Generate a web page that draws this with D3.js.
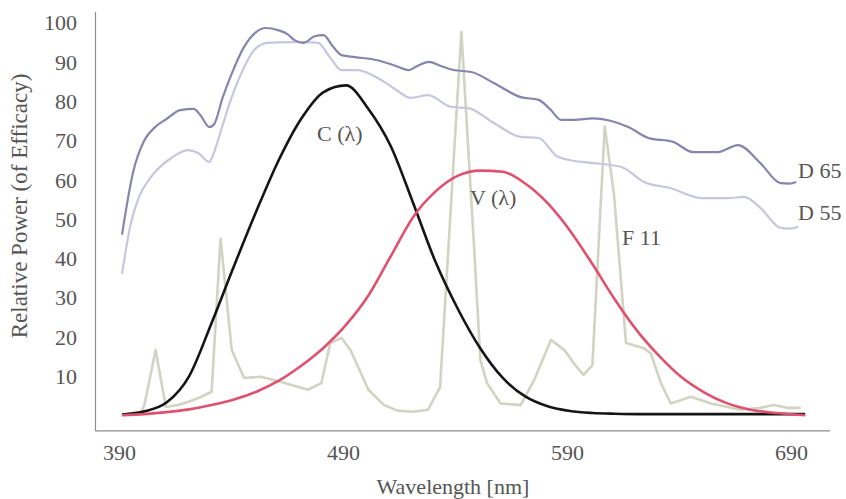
<!DOCTYPE html>
<html>
<head>
<meta charset="utf-8">
<script src="https://cdn.jsdelivr.net/npm/d3@7"></script>
<style>
html,body{margin:0;padding:0;background:#fff;}
svg{display:block;}
text{font-family:"Liberation Serif","Times New Roman",serif;fill:#555;}
</style>
</head>
<body>
<svg id="chart" width="846" height="499"></svg>
<script>
// ---- data ----
const xTicks = [390, 490, 590, 690];
const yTicks = [10, 20, 30, 40, 50, 60, 70, 80, 90, 100];

const d65Wl = [390,395,400,405,410,416,422,425,429,431,435,439,444.5,450,454,460,464,467,471,476,480,484,488,494,504,512,518,522,527,532,538,546,556,568,576,581,586,592,600,608,616,625,636,645,656,665,675,684,688,691];
const d65Val = [46,62,70,73.5,75.5,77.7,78,76.4,73.4,74,81,87,93.8,97.6,98.6,98,97,95.5,94.8,96.5,96.8,94,91.7,91.2,90.4,89,87.9,89,90,89,87.9,87.4,84.6,81,80.3,78,75.2,75.2,75.6,75,73.4,70.6,69.6,67,67,68.8,64.2,59.1,59,59.4];

const d55Wl = [390,394,397.6,403,412,419.5,424,429,431,435,439,444,449,455,465,472,477.5,483,488,495,505.6,512,519,526.6,537,544.5,556,568,576,584.6,595,600.7,613,623,635,648.5,660.5,667.7,675,684,688,692];
const d55Val = [36,49,55.6,60.7,65.5,67.5,66.8,64.5,66.8,74,81,88,93,94.8,95,95,94.8,91,87.9,87.9,85.4,83,80.8,81.5,78.5,78.2,74.4,70.9,70.6,65.8,64.5,64.2,63.2,59.4,57.8,55.3,55.3,55.6,52.8,47.7,47.5,48];

const f11Wl = [390,395,398.5,400,405,409.6,415,420,425,430,434,439,444.5,452,461,470,473,479,483,488,492,500,507,513,520,526.6,532,541.5,547,550,553,559,568,574,581.5,587.5,592,596,600,605.5,609.6,615,623,626,630.6,635,644,653,666,675,681,687,693];
const f11Val = [0,0.5,0.6,2.6,16.6,2.1,2.6,3.5,4.6,6,45,16.6,9.5,9.8,8.5,7,6.5,8.2,18.4,19.7,16.6,6.5,2.6,1.2,0.9,1.4,7.2,97.6,44.6,14,8.2,3,2.6,9,19.2,16.6,13,10.3,12.8,73.5,56.5,18.4,17.1,15.8,8.2,3,4.7,3,1.4,1.9,2.6,1.9,1.9];

const cvWl = [390,400,410,420,430,440,450,460,470,480,490,500,510,520,530,540,550,560,570,580,590,600,610,620,630,640,650,660,670,680,690,695];
const cVal = [0.2,1,3.3,10,23.5,38,52,65,75.5,82.3,84,78,68.5,54,39,27,17,9.5,4.8,2.3,1.1,0.6,0.4,0.3,0.3,0.3,0.3,0.3,0.3,0.3,0.3,0.3];
const vVal = [0,0.3,0.8,1.5,2.6,4,6,8.8,12.6,17.2,23,30.5,40.5,50.5,57,61,62.3,62,59,54,47,38.5,29.5,21.5,15,9.6,5.8,3.1,1.5,0.7,0.2,0];

const seriesNames = ["D 65", "D 55", "F 11", "C (λ)", "V (λ)"];

// ---- layout ----
const svg = d3.select("#chart");
const x = d3.scaleLinear().domain([390, 690]).range([122, 794]);
const y = d3.scaleLinear().domain([0, 100]).range([415.3, 22.5]);

// axes lines
svg.append("line").attr("x1", 95.5).attr("x2", 95.5).attr("y1", 12).attr("y2", 431)
  .attr("stroke", "#8c8c8c").attr("stroke-width", 1.2);
svg.append("line").attr("x1", 95.5).attr("x2", 830).attr("y1", 430.8).attr("y2", 430.8)
  .attr("stroke", "#8c8c8c").attr("stroke-width", 1.2);

// y tick labels
const yAxis = d3.axisLeft(y).tickValues(yTicks).tickSize(0).tickPadding(0);
const gy = svg.append("g").attr("transform", "translate(77,0)").call(yAxis);
gy.select(".domain").remove();
gy.selectAll("text").attr("font-size", 22).attr("dy", "0.34em")
  .style("font-family", '"Liberation Serif",serif').style("fill", "#555");

// x tick labels
const xAxis = d3.axisBottom(x).tickValues(xTicks).tickSize(0).tickPadding(0).tickFormat(d3.format("d"));
const gx = svg.append("g").attr("transform", "translate(-3,444)").call(xAxis);
gx.select(".domain").remove();
gx.selectAll("text").attr("font-size", 22).attr("dy", "0.71em")
  .style("font-family", '"Liberation Serif",serif').style("fill", "#555");

// axis titles
svg.append("text").attr("x", 453).attr("y", 494).attr("text-anchor", "middle")
  .attr("font-size", 22).text("Wavelength [nm]");
svg.append("text").attr("transform", "translate(27,206) rotate(-90)")
  .attr("text-anchor", "middle").attr("font-size", 23).text("Relative Power (of Efficacy)");

// ---- lines ----
function pts(wl, vals) { return wl.map((w, i) => [w, vals[i]]); }
const smooth = d3.line().x(d => x(d[0])).y(d => y(d[1])).curve(d3.curveMonotoneX);
const straight = d3.line().x(d => x(d[0])).y(d => y(d[1]));

svg.append("path").attr("d", straight(pts(f11Wl, f11Val)))
  .attr("fill", "none").attr("stroke", "#d2d3c2").attr("stroke-width", 2.6).attr("stroke-linejoin", "round");
svg.append("path").attr("d", smooth(pts(d55Wl, d55Val)))
  .attr("fill", "none").attr("stroke", "#c6c6df").attr("stroke-width", 2.2);
svg.append("path").attr("d", smooth(pts(d65Wl, d65Val)))
  .attr("fill", "none").attr("stroke", "#8585ae").attr("stroke-width", 2.2);
svg.append("path").attr("d", smooth(pts(cvWl, cVal)))
  .attr("fill", "none").attr("stroke", "#151515").attr("stroke-width", 2.6);
svg.append("path").attr("d", smooth(pts(cvWl, vVal)))
  .attr("fill", "none").attr("stroke", "#e0506f").attr("stroke-width", 2.6);

// ---- series labels ----
const labelPos = [[798,178,"start"],[798,220,"start"],[622,245,"start"],[317,141,"start"],[470,205,"start"]];
seriesNames.forEach((n, i) => {
  svg.append("text").attr("x", labelPos[i][0]).attr("y", labelPos[i][1])
    .attr("text-anchor", labelPos[i][2]).attr("font-size", 22).text(n);
});
</script>
</body>
</html>
